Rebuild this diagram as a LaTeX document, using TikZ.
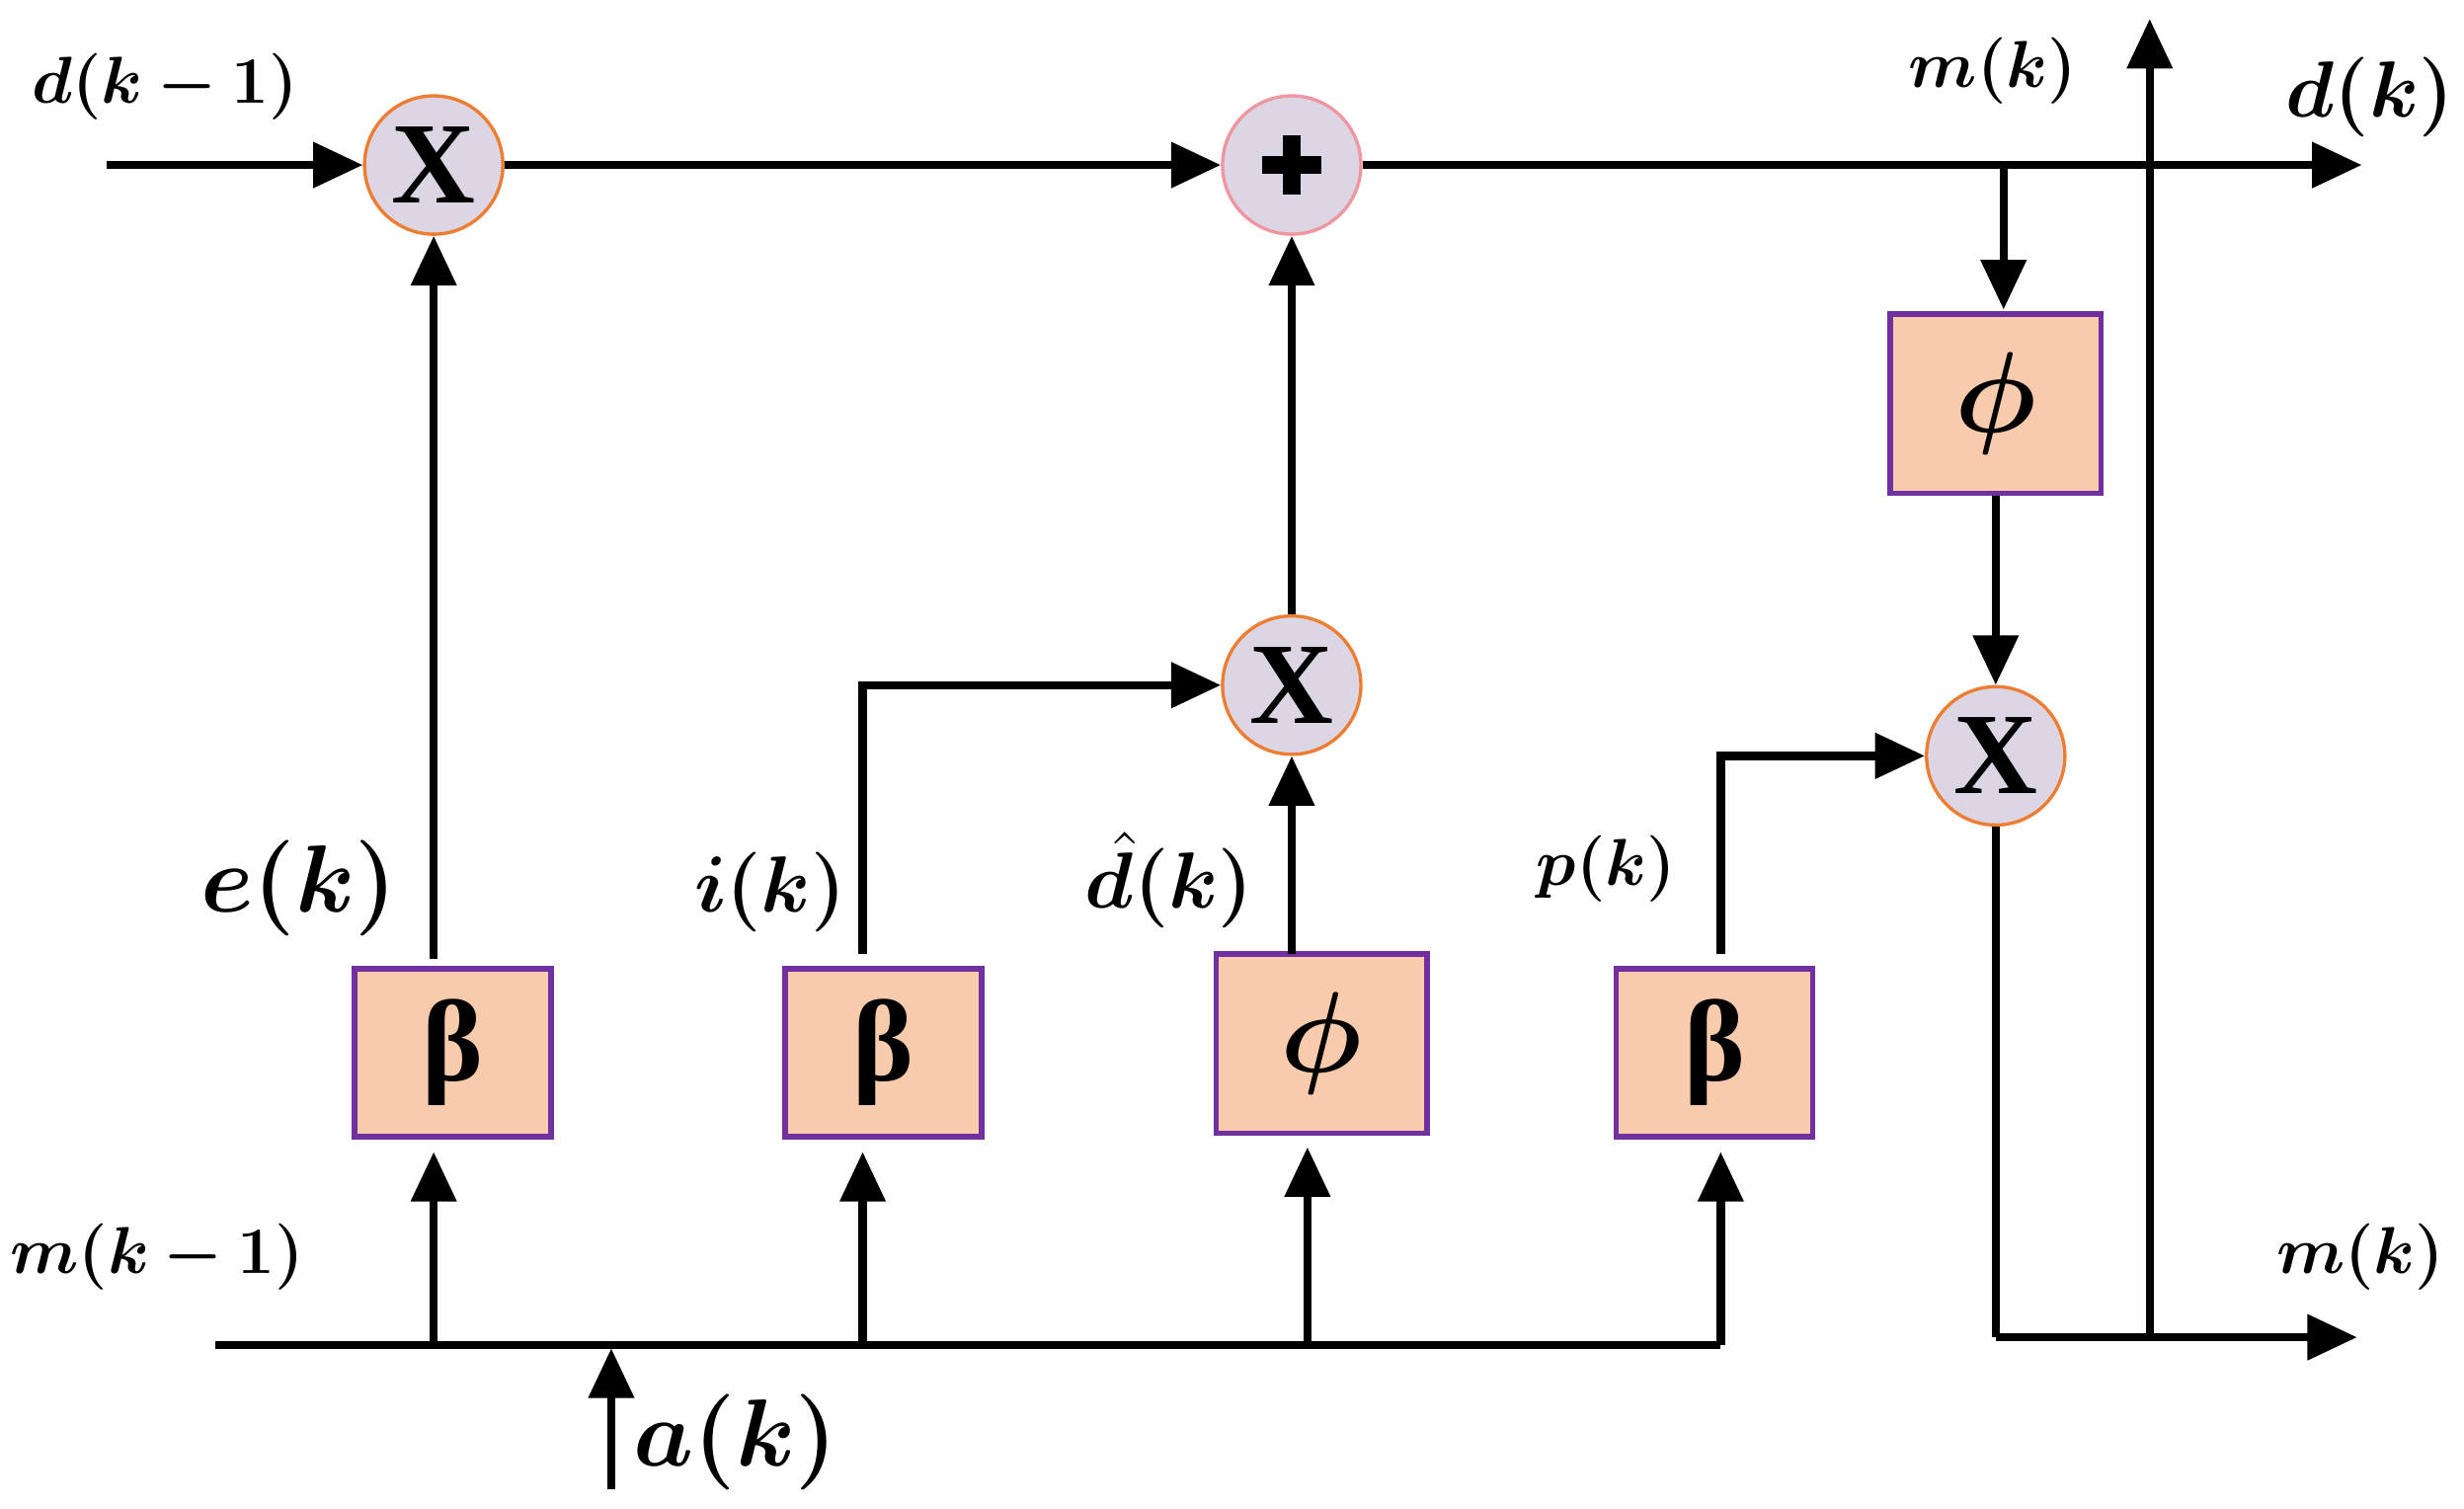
\documentclass[tikz,border=0pt]{standalone}
\usepackage{bm}
\usepackage{fontspec}
\newfontfamily\serifb{Liberation Serif}
\usetikzlibrary{arrows.meta}
\begin{document}
\begin{tikzpicture}[x=0.01cm,y=-0.01cm,
  wire/.style={line width=1.5pt},
  arr/.style={wire,-{Triangle[length=9pt,width=8pt]}},
  op/.style={circle,minimum size=0.88cm,inner sep=0pt,fill={rgb,255:red,220;green,214;blue,228},draw={rgb,255:red,237;green,125;blue,49},line width=0.6pt,font=\serifb\fontsize{21}{21}\selectfont\bfseries},
  blk/.style={rectangle,minimum width=1.25cm,minimum height=1.07cm,inner sep=0pt,fill={rgb,255:red,248;green,203;blue,173},draw={rgb,255:red,112;green,48;blue,160},line width=1pt,font=\fontsize{21}{21}\selectfont},
  lbl/.style={font=\fontsize{13}{13}\selectfont}]
\useasboundingbox (0,0) rectangle (1568,960);
\node[op] (x1) at (276,105) {X};
\node[op,draw={rgb,255:red,240;green,150;blue,160}] (pl) at (822,105) {};
\draw[line width=3.2pt] (803,105) -- (841,105) (822,86) -- (822,124);
\node[op] (x2) at (822,436) {X};
\node[op] (x3) at (1270,481) {X};
\node[blk] (b1) at (288,670) {\serifb\bfseries β};
\node[blk] (b2) at (562,670) {\serifb\bfseries β};
\node[blk,minimum width=1.34cm,minimum height=1.14cm] (f1) at (841,664) {$\bm{\phi}$};
\node[blk] (b3) at (1091,670) {\serifb\bfseries β};
\node[blk,minimum width=1.34cm,minimum height=1.14cm] (f2) at (1270,257) {$\bm{\phi}$};
\coordinate (din) at (68,105);
\coordinate (busL) at (137,856);
\coordinate (busR) at (1095,856);
\coordinate (ain) at (389,948);
\coordinate (abus) at (389,858);
\coordinate (dout) at (1503,105);
\coordinate (mout) at (1500,851);
\coordinate (mup) at (1368,12);
\coordinate (mbot) at (1368,851);
\coordinate (br) at (1275,105);
\coordinate (x3b) at (1270,851);
\draw[arr] (din) -- (x1.west);
\draw[arr] (x1.east) -- (pl.west);
\draw[arr] (pl.east) -- (dout);
\draw[wire] (busL) -- (busR);
\draw[arr] (ain) -- (abus);
\draw[arr] (276,856) -- (276,733);
\draw[arr] (549,856) -- (549,733);
\draw[arr] (832,856) -- (832,730);
\draw[arr] (busR) -- (1095,733);
\draw[arr] (276,610) -- (x1.south);
\draw[arr] (549,607) |- (x2.west);
\draw[arr] (822,607) -- (x2.south);
\draw[arr] (x2.north) -- (pl.south);
\draw[arr] (1095,607) |- (x3.west);
\draw[arr] (br) -- (1275,197);
\draw[arr] (f2.south) -- (x3.north);
\draw[wire] (x3.south) -- (x3b);
\draw[arr] (x3b) -- (mout);
\draw[arr] (mbot) -- (mup);
\node[lbl] at (105,55) {$\bm{d(k-1)}$};
\node[lbl] at (100,800) {$\bm{m(k-1)}$};
\node[font=\fontsize{19}{19}\selectfont] at (190,565) {$\bm{e(k)}$};
\node[font=\fontsize{15}{15}\selectfont] at (490,568) {$\bm{i(k)}$};
\node[font=\fontsize{15}{15}\selectfont] at (744,560) {$\bm{\hat{d}(k)}$};
\node[lbl] at (1022,553) {$\bm{p(k)}$};
\node[font=\fontsize{16}{16}\selectfont] at (468,918) {$\bm{a(k)}$};
\node[font=\fontsize{15}{15}\selectfont] at (1508,62) {$\bm{d(k)}$};
\node[lbl] at (1268,45) {$\bm{m(k)}$};
\node[lbl] at (1502,800) {$\bm{m(k)}$};
\end{tikzpicture}
\end{document}
